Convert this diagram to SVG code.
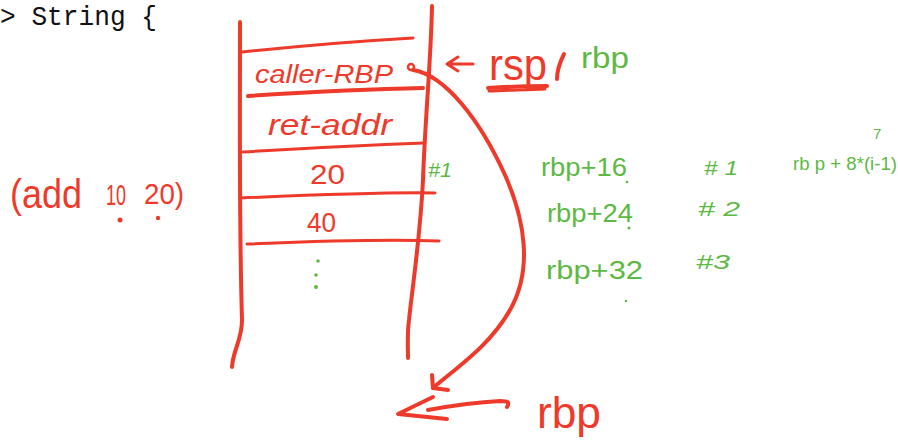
<svg xmlns="http://www.w3.org/2000/svg" width="898" height="441" viewBox="0 0 898 441">
  <style>
    .ink { fill: none; stroke: #ee3a2a; stroke-linecap: round; stroke-linejoin: round; }
    .thick { stroke-width: 4; }
    .mid { stroke-width: 3; }
    .red { fill: #ee3a2a; font-family: "Liberation Sans", "DejaVu Sans", sans-serif; }
    .green { fill: #5cb944; font-family: "Liberation Sans", "DejaVu Sans", sans-serif; }
    .code { fill: #111; font-family: "Liberation Mono", "DejaVu Sans Mono", monospace; font-size: 27px; }
    .gdot { fill: #5cb944; }
    .rdot { fill: #ee3a2a; }
  </style>
  <rect width="898" height="441" fill="#ffffff"/>

  <!-- editor text at top left -->
  <g id="code-line">
    <text class="code" x="0" y="25" textLength="157" lengthAdjust="spacingAndGlyphs">&gt; String {</text>
  </g>

  <!-- the stack: two rails and the slot dividers -->
  <g id="stack-frame">
    <path class="ink thick" d="M240 22 C240 120 239 220 242 320 C242 340 233 350 232 367"/>
    <path class="ink thick" d="M432 6 C431 60 425 120 423 180 C420 240 412 290 409 320 C407 335 408 348 408 358"/>
    <path class="ink mid" d="M242 52 C300 46 360 41 413 38"/>
    <path class="ink thick" d="M248 96 C310 92 370 89 423 88"/>
    <path class="ink mid" d="M243 152 C310 148 370 145 424 143"/>
    <path class="ink mid" d="M240 198 C310 195 380 192 435 193"/>
    <path class="ink mid" d="M247 244 C320 241 390 239 439 241"/>
  </g>

  <g id="slot-caller-rbp">
    <text class="red" x="255" y="83" font-size="25" font-style="italic" textLength="138" lengthAdjust="spacingAndGlyphs">caller-RBP</text>
    <circle cx="411" cy="67" r="3" fill="none" stroke="#ee3a2a" stroke-width="2.5"/>
  </g>
  <g id="slot-ret-addr">
    <text class="red" x="268" y="135" font-size="29" font-style="italic" textLength="124" lengthAdjust="spacingAndGlyphs">ret-addr</text>
  </g>
  <g id="slot-20">
    <text class="red" x="310" y="184" font-size="28" textLength="35" lengthAdjust="spacingAndGlyphs">20</text>
  </g>
  <g id="slot-40">
    <text class="red" x="307" y="232" font-size="27" textLength="29" lengthAdjust="spacingAndGlyphs">40</text>
  </g>
  <g id="slot-more">
    <circle class="gdot" cx="318" cy="261" r="1.8"/>
    <circle class="gdot" cx="316" cy="275" r="1.8"/>
    <circle class="gdot" cx="316" cy="287" r="2"/>
  </g>
  <g id="slot-mark">
    <text class="green" x="428" y="177" font-size="20" font-style="italic" textLength="24" lengthAdjust="spacingAndGlyphs">#1</text>
  </g>

  <!-- call expression -->
  <g id="call-expr">
    <text class="red" x="10" y="208" font-size="40" textLength="72" lengthAdjust="spacingAndGlyphs">(add</text>
    <text class="red" x="106" y="205" font-size="30" textLength="20" lengthAdjust="spacingAndGlyphs">10</text>
    <text class="red" x="144" y="204" font-size="30" textLength="40" lengthAdjust="spacingAndGlyphs">20)</text>
    <circle class="rdot" cx="120" cy="220" r="2.5"/>
    <circle class="rdot" cx="158" cy="218" r="2.2"/>
  </g>

  <!-- register labels -->
  <g id="reg-rsp-rbp">
    <text class="red" x="489" y="80" font-size="44" textLength="58" lengthAdjust="spacingAndGlyphs">rsp</text>
    <path class="ink thick" d="M488 88 C505 87 528 86 547 86"/>
    <path class="ink mid" d="M489 91 C505 90 525 90 545 89"/>
    <path class="ink thick" d="M564 54 C560 62 557 70 557 79"/>
    <text class="green" x="581" y="68" font-size="29" textLength="48" lengthAdjust="spacingAndGlyphs">rbp</text>
  </g>
  <g id="reg-rbp-bottom">
    <text class="red" x="537" y="428" font-size="44" textLength="64" lengthAdjust="spacingAndGlyphs">rbp</text>
  </g>

  <!-- argument offsets -->
  <g id="offsets">
    <text class="green" x="541" y="176" font-size="25" textLength="86" lengthAdjust="spacingAndGlyphs">rbp+16</text>
    <circle class="gdot" cx="627" cy="182" r="1.3"/>
    <text class="green" x="547" y="222" font-size="25" textLength="86" lengthAdjust="spacingAndGlyphs">rbp+24</text>
    <circle class="gdot" cx="629" cy="228" r="1.5"/>
    <text class="green" x="546" y="279" font-size="25" textLength="97" lengthAdjust="spacingAndGlyphs">rbp+32</text>
    <circle class="gdot" cx="626" cy="301" r="1.2"/>
  </g>
  <g id="arg-numbers">
    <text class="green" x="704" y="175" font-size="20" font-style="italic" textLength="34" lengthAdjust="spacingAndGlyphs"># 1</text>
    <text class="green" x="698" y="216" font-size="20" font-style="italic" textLength="42" lengthAdjust="spacingAndGlyphs"># 2</text>
    <text class="green" x="696" y="269" font-size="20" font-style="italic" textLength="34" lengthAdjust="spacingAndGlyphs">#3</text>
  </g>
  <g id="offset-formula">
    <text class="green" x="873" y="139" font-size="15">7</text>
    <text class="green" x="793" y="170" font-size="19" textLength="104" lengthAdjust="spacingAndGlyphs">rb p + 8*(i-1)</text>
  </g>

  <!-- arrows -->
  <g id="connectors">
    <!-- pointer from rsp to the saved rbp slot -->
    <path class="ink mid" d="M473 64 L448 64 M458 57 L447 64 L458 71"/>
    <!-- saved rbp chain down to the caller frame -->
    <path class="ink thick" d="M413 70 C445 75 480 120 505 175 C525 220 533 270 510 310 C490 345 460 365 433 388"/>
    <path class="ink thick" d="M432 375 L433 388 L448 390"/>
    <!-- bottom rbp pointer -->
    <path class="ink thick" d="M507 407 C510 402 508 401 500 401 C480 402 450 406 428 410"/>
    <path class="ink thick" d="M433 397 L398 414 L447 419"/>
  </g>
</svg>
